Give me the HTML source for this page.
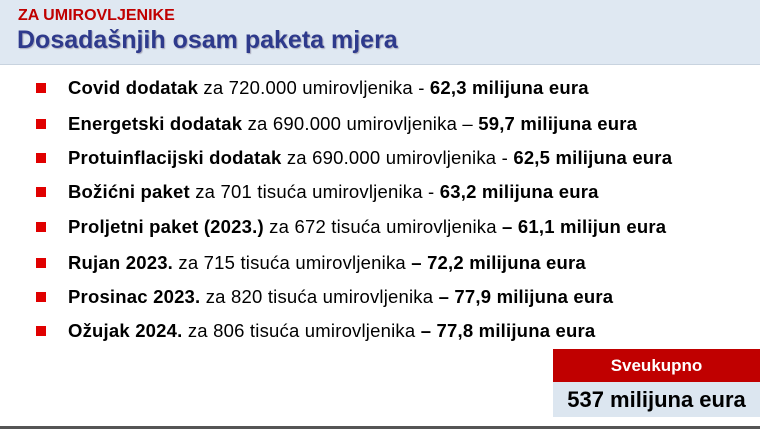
<!DOCTYPE html>
<html><head><meta charset="utf-8"><style>
body{margin:0;width:760px;height:429px;overflow:hidden;background:#fff;position:relative;font-family:"Liberation Sans",sans-serif}
.hdr{position:absolute;left:0;top:0;width:760px;height:64px;background:#dfe8f2;border-bottom:1px solid #c8d3df}
.t1{position:absolute;left:18px;top:7px;color:#c00000;font-weight:bold;font-size:16px}
.t2{position:absolute;left:17px;top:26px;color:#2e3a8c;font-weight:bold;font-size:25px;text-shadow:1px 1px 1px #aab}
.row{position:absolute;left:68px;font-size:18.5px;letter-spacing:0.2px;color:#000;white-space:nowrap}
.b{position:absolute;left:36px;width:10px;height:10px;background:#e00000}
.red{position:absolute;left:553px;top:349px;width:207px;height:33px;background:#c00000;color:#fff;font-weight:bold;font-size:17px;text-align:center;line-height:33px}
.blue{position:absolute;left:553px;top:382px;width:207px;height:35px;background:#dce6f0;color:#000;font-weight:bold;font-size:22px;text-align:center;line-height:35px}
.bot{position:absolute;left:0;top:426px;width:760px;height:3px;background:#555}
</style></head><body>
<div class="hdr"></div>
<div class="t1">ZA UMIROVLJENIKE</div>
<div class="t2">Dosadašnjih osam paketa mjera</div>
<div class="b" style="top:83px"></div><div class="row" style="top:77px"><b>Covid dodatak</b> za 720.000 umirovljenika - <b>62,3 milijuna eura</b></div>
<div class="b" style="top:119px"></div><div class="row" style="top:113px"><b>Energetski dodatak</b> za 690.000 umirovljenika – <b>59,7 milijuna eura</b></div>
<div class="b" style="top:153px"></div><div class="row" style="top:147px"><b>Protuinflacijski dodatak</b> za 690.000 umirovljenika - <b>62,5 milijuna eura</b></div>
<div class="b" style="top:187px"></div><div class="row" style="top:181px"><b>Božićni paket</b> za 701 tisuća umirovljenika - <b>63,2 milijuna eura</b></div>
<div class="b" style="top:222px"></div><div class="row" style="top:216px"><b>Proljetni paket (2023.)</b> za 672 tisuća umirovljenika <b>– 61,1 milijun eura</b></div>
<div class="b" style="top:258px"></div><div class="row" style="top:252px"><b>Rujan 2023.</b> za 715 tisuća umirovljenika <b>– 72,2 milijuna eura</b></div>
<div class="b" style="top:292px"></div><div class="row" style="top:286px"><b>Prosinac 2023.</b> za 820 tisuća umirovljenika <b>– 77,9 milijuna eura</b></div>
<div class="b" style="top:326px"></div><div class="row" style="top:320px"><b>Ožujak 2024.</b> za 806 tisuća umirovljenika <b>– 77,8 milijuna eura</b></div>
<div class="red">Sveukupno</div>
<div class="blue">537 milijuna eura</div>
<div class="bot"></div>
</body></html>
